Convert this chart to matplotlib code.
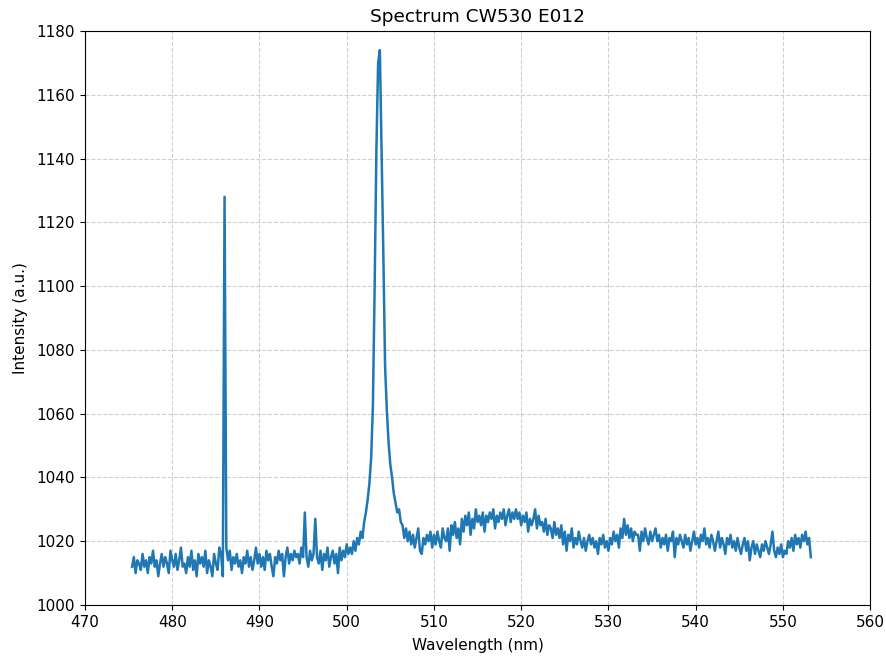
import numpy as np
import matplotlib
matplotlib.use("Agg")
import matplotlib.pyplot as plt

# intensity, 5 samples per nm (0.2 nm step), rows start at 475.4 nm
intensity = [
    1012, 1015, 1010, 1014, 1013,  # 475.4
    1011, 1016, 1012, 1014, 1010,  # 476.4
    1015, 1013, 1017, 1012, 1014,  # 477.4
    1009, 1013, 1016, 1012, 1015,  # 478.4
    1013, 1010, 1017, 1014, 1012,  # 479.4
    1016, 1011, 1014, 1018, 1012,  # 480.4
    1013, 1010, 1015, 1012, 1017,  # 481.4
    1011, 1014, 1009, 1016, 1013,  # 482.4
    1015, 1012, 1017, 1010, 1014,  # 483.4
    1012, 1009, 1016, 1013, 1011,  # 484.4
    1018, 1016, 1009, 1128, 1018,  # 485.4
    1014, 1017, 1011, 1015, 1013,  # 486.4
    1016, 1012, 1014, 1010, 1015,  # 487.4
    1013, 1017, 1012, 1015, 1011,  # 488.4
    1014, 1018, 1013, 1016, 1012,  # 489.4
    1015, 1011, 1017, 1014, 1016,  # 490.4
    1012, 1009, 1015, 1013, 1017,  # 491.4
    1014, 1016, 1009, 1015, 1018,  # 492.4
    1013, 1016, 1014, 1017, 1015,  # 493.4
    1016, 1013, 1018, 1015, 1029,  # 494.4
    1015, 1012, 1017, 1014, 1016,  # 495.4
    1027, 1015, 1013, 1017, 1011,  # 496.4
    1016, 1014, 1018, 1012, 1015,  # 497.4
    1017, 1013, 1016, 1010, 1018,  # 498.4
    1014, 1017, 1015, 1019, 1016,  # 499.4
    1018, 1016, 1020, 1017, 1021,  # 500.4
    1019, 1023, 1021, 1026, 1029,  # 501.4
    1033, 1038, 1046, 1062, 1099,  # 502.4
    1142, 1170, 1174, 1142, 1110,  # 503.4
    1075, 1061, 1051, 1044, 1040,  # 504.4
    1035, 1032, 1029, 1030, 1026,  # 505.4
    1025, 1021, 1024, 1020, 1023,  # 506.4
    1019, 1022, 1018, 1021, 1024,  # 507.4
    1017, 1016, 1021, 1019, 1022,  # 508.4
    1020, 1023, 1018, 1022, 1019,  # 509.4
    1023, 1020, 1018, 1024, 1021,  # 510.4
    1020, 1024, 1017, 1025, 1022,  # 511.4
    1026, 1021, 1024, 1019, 1027,  # 512.4
    1023, 1028, 1025, 1029, 1022,  # 513.4
    1027, 1024, 1030, 1026, 1028,  # 514.4
    1025, 1029, 1023, 1028, 1026,  # 515.4
    1029, 1027, 1030, 1024, 1028,  # 516.4
    1026, 1029, 1027, 1030, 1025,  # 517.4
    1028, 1030, 1026, 1029, 1027,  # 518.4
    1030, 1027, 1029, 1025, 1028,  # 519.4
    1026, 1029, 1023, 1027, 1025,  # 520.4
    1027, 1030, 1024, 1028, 1025,  # 521.4
    1026, 1023, 1027, 1022, 1025,  # 522.4
    1024, 1021, 1026, 1022, 1024,  # 523.4
    1021, 1025, 1019, 1023, 1017,  # 524.4
    1022, 1020, 1024, 1018, 1021,  # 525.4
    1019, 1023, 1020, 1018, 1021,  # 526.4
    1017, 1020, 1022, 1019, 1021,  # 527.4
    1018, 1020, 1016, 1021, 1019,  # 528.4
    1022, 1018, 1020, 1017, 1021,  # 529.4
    1019, 1023, 1020, 1022, 1018,  # 530.4
    1024, 1021, 1027, 1022, 1025,  # 531.4
    1021, 1024, 1020, 1023, 1022,  # 532.4
    1022, 1017, 1023, 1020, 1024,  # 533.4
    1021, 1019, 1023, 1020, 1022,  # 534.4
    1024, 1020, 1022, 1018, 1021,  # 535.4
    1019, 1022, 1017, 1021, 1020,  # 536.4
    1023, 1015, 1021, 1019, 1022,  # 537.4
    1020, 1018, 1022, 1019, 1021,  # 538.4
    1017, 1020, 1023, 1019, 1021,  # 539.4
    1018, 1022, 1020, 1024, 1019,  # 540.4
    1021, 1018, 1022, 1020, 1017,  # 541.4
    1020, 1023, 1018, 1021, 1019,  # 542.4
    1016, 1021, 1019, 1022, 1018,  # 543.4
    1020, 1017, 1021, 1018, 1016,  # 544.4
    1019, 1021, 1017, 1020, 1014,  # 545.4
    1018, 1020, 1016, 1019, 1017,  # 546.4
    1015, 1019, 1017, 1020, 1018,  # 547.4
    1016, 1019, 1023, 1017, 1015,  # 548.4
    1018, 1016, 1019, 1015, 1017,  # 549.4
    1016, 1020, 1018, 1021, 1017,  # 550.4
    1022, 1019, 1021, 1018, 1022,  # 551.4
    1020, 1023, 1019, 1021, 1015,  # 552.4
]
wl_start = 475.4
wl_step = 0.2

wavelength = wl_start + wl_step * np.arange(len(intensity))

fig = plt.figure(figsize=(8.87, 6.57), dpi=100)
ax = fig.add_axes([0.0958, 0.0792, 0.8852, 0.8736])
ax.plot(wavelength, intensity, color='#1f77b4', linewidth=1.8)
ax.set_xlim(470, 560)
ax.set_ylim(1000, 1180)
ax.set_xticks(np.arange(470, 561, 10))
ax.set_yticks(np.arange(1000, 1181, 20))
ax.tick_params(labelsize=11, length=3.9)
ax.grid(True, linestyle='--', alpha=0.6)
ax.set_title('Spectrum CW530 E012', fontsize=13.3, pad=6.6)
ax.set_xlabel('Wavelength (nm)', fontsize=11, labelpad=5.5)
ax.set_ylabel('Intensity (a.u.)', fontsize=11, labelpad=6)
fig.savefig('out.png', dpi=100)
